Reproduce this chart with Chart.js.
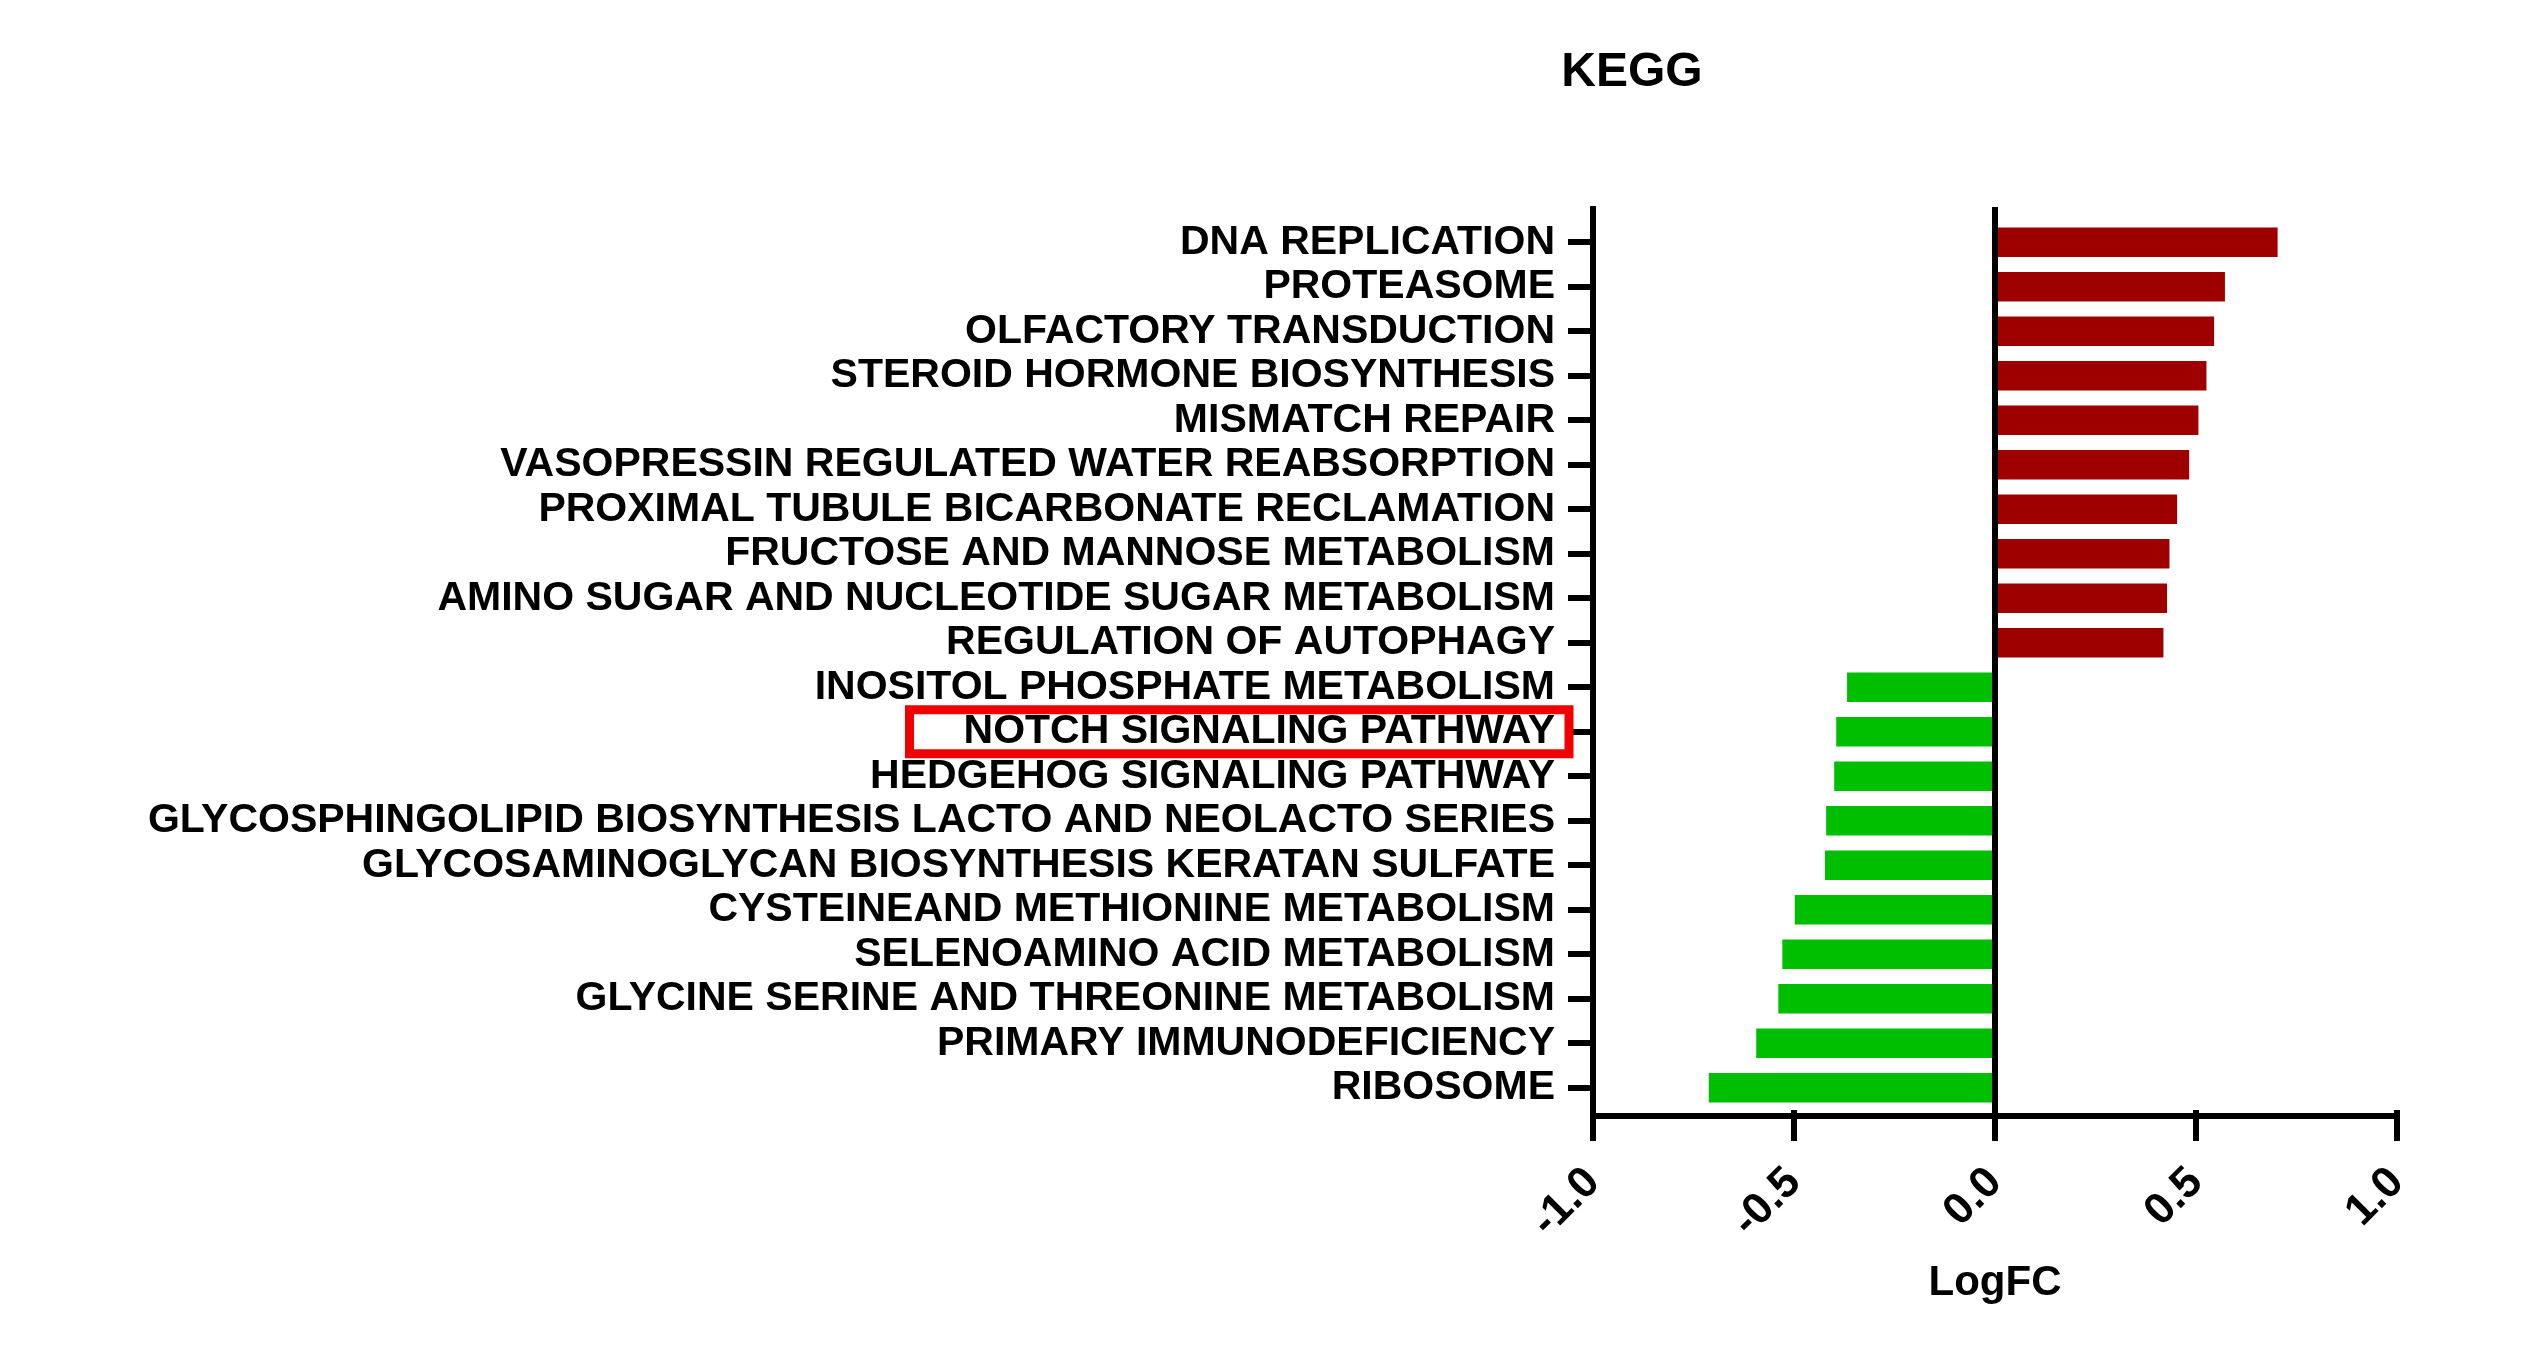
<!DOCTYPE html>
<html>
<head>
<meta charset="utf-8">
<script src="https://cdn.jsdelivr.net/npm/chart.js@4.4.1/dist/chart.umd.min.js"></script>
<style>
    html, body { margin: 0; padding: 0; background: #fff; }
    canvas { display: block; }
</style>
</head>
<body>
<canvas id="keggChart" width="2527" height="1349"></canvas>
<script>
// ---- data ----
var pathways = [
    'DNA REPLICATION',
    'PROTEASOME',
    'OLFACTORY TRANSDUCTION',
    'STEROID HORMONE BIOSYNTHESIS',
    'MISMATCH REPAIR',
    'VASOPRESSIN REGULATED WATER REABSORPTION',
    'PROXIMAL TUBULE BICARBONATE RECLAMATION',
    'FRUCTOSE AND MANNOSE METABOLISM',
    'AMINO SUGAR AND NUCLEOTIDE SUGAR METABOLISM',
    'REGULATION OF AUTOPHAGY',
    'INOSITOL PHOSPHATE METABOLISM',
    'NOTCH SIGNALING PATHWAY',
    'HEDGEHOG SIGNALING PATHWAY',
    'GLYCOSPHINGOLIPID BIOSYNTHESIS LACTO AND NEOLACTO SERIES',
    'GLYCOSAMINOGLYCAN BIOSYNTHESIS KERATAN SULFATE',
    'CYSTEINEAND METHIONINE METABOLISM',
    'SELENOAMINO ACID METABOLISM',
    'GLYCINE SERINE AND THREONINE METABOLISM',
    'PRIMARY IMMUNODEFICIENCY',
    'RIBOSOME'
];
var logFC = [
    0.703, 0.572, 0.545, 0.526, 0.506, 0.483, 0.453, 0.434, 0.428, 0.419,
    -0.368, -0.395, -0.400, -0.420, -0.423, -0.498, -0.529, -0.539, -0.594, -0.712
];
var xTickValues = [-1.0, -0.5, 0.0, 0.5, 1.0];
var highlighted = 'NOTCH SIGNALING PATHWAY';
var chartTitle = 'KEGG';

var FONT = '"Liberation Sans", Arial, Helvetica, sans-serif';
var LABEL_SIZE = 41;
var Y_TICK_LEN = 25;
var Y_TICK_PAD = 13;
var UP_COLOR = '#9e0000';
var DOWN_COLOR = '#00be00';

// title, axis lines, zero line and the red box around one label
var axesPlugin = {
    id: 'axesPlugin',
    afterDatasetsDraw: function (chart) {
        var ctx = chart.ctx;
        var area = chart.chartArea;
        var x = chart.scales.x;
        var y = chart.scales.y;
        var xLeft = x.getPixelForValue(xTickValues[0]);
        var xRight = x.getPixelForValue(xTickValues[xTickValues.length - 1]);
        var xZero = x.getPixelForValue(0);
        var axisY = area.bottom + 6;

        ctx.save();
        ctx.strokeStyle = '#000';
        ctx.lineWidth = 6;
        ctx.lineCap = 'butt';
        ctx.beginPath();
        ctx.moveTo(xLeft, area.top - 14);
        ctx.lineTo(xLeft, axisY + 3);
        ctx.moveTo(xLeft - 3, axisY);
        ctx.lineTo(xRight + 3, axisY);
        ctx.moveTo(xZero, area.top - 13);
        ctx.lineTo(xZero, axisY);
        ctx.stroke();

        // title (sits left of the plot centre in the original)
        ctx.fillStyle = '#000';
        ctx.font = 'bold 48px ' + FONT;
        ctx.textAlign = 'center';
        ctx.textBaseline = 'middle';
        ctx.fillText(chartTitle, xLeft + 39, 73);

        // highlight box
        var idx = pathways.indexOf(highlighted);
        if (idx >= 0) {
            var cy = y.getPixelForValue(idx);
            ctx.font = 'bold ' + LABEL_SIZE + 'px ' + FONT;
            var w = ctx.measureText(highlighted).width;
            var labelRight = area.left - Y_TICK_LEN - Y_TICK_PAD;
            var left = labelRight - w - 54;
            var right = labelRight + 14;
            ctx.strokeStyle = '#f00000';
            ctx.lineWidth = 9;
            ctx.strokeRect(left, cy - 22, right - left, 44);
        }
        ctx.restore();
    }
};

var ctx = document.getElementById('keggChart').getContext('2d');
new Chart(ctx, {
    type: 'bar',
    data: {
        labels: pathways,
        datasets: [{
            label: 'LogFC',
            data: logFC,
            backgroundColor: logFC.map(function (v) { return v >= 0 ? UP_COLOR : DOWN_COLOR; }),
            borderWidth: 0,
            barPercentage: 0.66,
            categoryPercentage: 1.0
        }]
    },
    options: {
        indexAxis: 'y',
        responsive: false,
        devicePixelRatio: 1,
        animation: false,
        layout: {
            padding: { left: 0, right: 130, top: 220, bottom: 0 }
        },
        plugins: {
            legend: { display: false },
            tooltip: { enabled: false },
            title: { display: false }
        },
        scales: {
            x: {
                type: 'linear',
                min: -1,
                max: 1,
                afterBuildTicks: function (scale) {
                    scale.ticks = xTickValues.map(function (v) { return { value: v }; });
                },
                afterFit: function (scale) { scale.height = 239; },
                border: { display: false },
                grid: {
                    drawOnChartArea: false,
                    drawTicks: true,
                    tickLength: 31,
                    lineWidth: 6,
                    color: '#000'
                },
                ticks: {
                    color: '#000',
                    font: { family: FONT, size: 44, weight: 'bold' },
                    minRotation: 45,
                    maxRotation: 45,
                    padding: 16,
                    callback: function (v) { return Number(v).toFixed(1); }
                },
                title: {
                    display: true,
                    text: 'LogFC',
                    color: '#000',
                    font: { family: FONT, size: 42, weight: 'bold', lineHeight: 1.2 },
                    padding: { top: 0, bottom: 40 }
                }
            },
            y: {
                afterFit: function (scale) { scale.width = 1593; },
                border: { display: false },
                grid: {
                    offset: false,
                    drawOnChartArea: false,
                    drawTicks: true,
                    tickLength: Y_TICK_LEN,
                    lineWidth: 6,
                    color: '#000'
                },
                ticks: {
                    autoSkip: false,
                    color: '#000',
                    padding: Y_TICK_PAD,
                    font: { family: FONT, size: LABEL_SIZE, weight: 'bold' }
                }
            }
        }
    },
    plugins: [axesPlugin]
});
</script>
</body>
</html>
